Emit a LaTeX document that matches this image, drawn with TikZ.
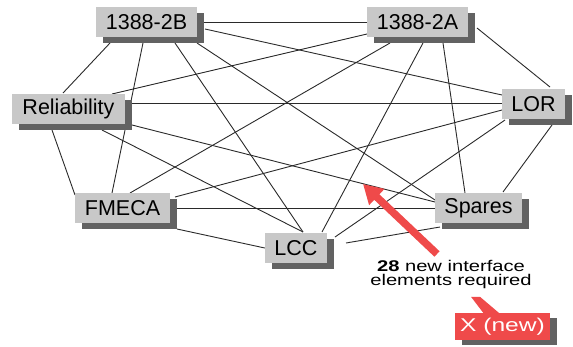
\documentclass[tikz,border=0pt]{standalone}
\usepackage{fontspec}
\setmainfont{Liberation Sans}
\usepackage{graphicx}
\usetikzlibrary{shadows,arrows.meta,backgrounds}
\definecolor{boxgray}{HTML}{C8C8C8}
\definecolor{shadowgray}{HTML}{626262}
\definecolor{alertred}{HTML}{EF4A4A}
\definecolor{linkgray}{HTML}{2A2A2A}
\begin{document}
\begin{tikzpicture}[x=1pt,y=-1pt,
  item/.style={fill=boxgray, inner sep=0pt, minimum height=30pt,
    font=\fontsize{21.5}{24}\selectfont,
    drop shadow={shadow xshift=7pt, shadow yshift=-6pt, fill=shadowgray, opacity=1}},
  link/.style={draw=linkgray, line width=0.9pt}]
\useasboundingbox (0,0) rectangle (573,346);

% system elements
\node[item, minimum width=101pt] (b2b) at (146.5,22) {1388-2B};
\node[item, minimum width=101pt] (b2a) at (417.5,22) {1388-2A};
\node[item, minimum width=113pt] (rel) at (68.5,109) {Reliability};
\node[item, minimum width=63pt]  (lor) at (533.5,104) {LOR};
\node[item, minimum width=95pt]  (fme) at (122.5,208) {FMECA};
\node[item, minimum width=62pt]  (lcc) at (296,248) {LCC};
\node[item, minimum width=87pt]  (spa) at (478.5,208) {Spares};

% every pair of elements is linked
\begin{scope}[on background layer]
\draw[link] ([shift={(57.5,0)}]b2b.center) -- (b2a.west);
\draw[link] ([shift={(58.5,7)}]b2b.center) -- ([shift={(-31.5,-9)}]lor.center);
\draw[link] ([shift={(-36.5,21)}]b2b.center) -- ([shift={(-5.5,-16)}]rel.center);
\draw[link] ([shift={(-3.5,21)}]b2b.center) -- ([shift={(-10.5,-15)}]fme.center);
\draw[link] ([shift={(28.5,21)}]b2b.center) -- ([shift={(7,-16)}]lcc.center);
\draw[link] ([shift={(50.5,21)}]b2b.center) -- ([shift={(-43.5,-8)}]spa.center);

\draw[link] ([shift={(-50.5,12)}]b2a.center) -- ([shift={(43.5,-15)}]rel.center);
\draw[link] ([shift={(-27.5,21)}]b2a.center) -- ([shift={(7.5,-15)}]fme.center);
\draw[link] ([shift={(5.5,21)}]b2a.center) -- ([shift={(26,-16)}]lcc.center);
\draw[link] ([shift={(25.5,21)}]b2a.center) -- ([shift={(-13.5,-15)}]spa.center);
\draw[link] ([shift={(59.5,6)}]b2a.center) -- ([shift={(16.5,-17)}]lor.center);

\draw[link] ([shift={(63.5,-6)}]rel.center) -- ([shift={(-31.5,-1)}]lor.center);
\draw[link] ([shift={(-16.5,21)}]rel.center) -- ([shift={(-47.5,-13)}]fme.center);
\draw[link] ([shift={(33.5,21)}]rel.center) -- ([shift={(7,-16)}]lcc.center);
\draw[link] ([shift={(63.5,16)}]rel.center) -- ([shift={(-43.5,-6)}]spa.center);

\draw[link] ([shift={(-31.5,6)}]lor.center) -- ([shift={(52.5,-11)}]fme.center);
\draw[link] ([shift={(-28.5,16)}]lor.center) -- ([shift={(39,-11)}]lcc.center);
\draw[link] ([shift={(18.5,21)}]lor.center) -- ([shift={(24.5,-16)}]spa.center);

\draw[link] ([shift={(54.5,0)}]fme.center) -- (spa.west);
\draw[link] ([shift={(54.5,21)}]fme.center) -- (lcc.west);
\draw[link] ([shift={(50,-5)}]lcc.center) -- ([shift={(-38.5,19)}]spa.center);
\end{scope}

% callout
\coordinate (arrowTail) at (437,254);
\coordinate (arrowTip) at (363,184);
\draw[alertred, line width=7.5pt, -{Triangle[length=19pt,width=21pt]}] (arrowTail) -- (arrowTip);
\node[align=center, font=\fontsize{15.5}{14}\selectfont, inner sep=0pt] (note) at (451,274)
  {\scalebox{1.3}[1]{\textbf{28} new interface}\\\scalebox{1.3}[1]{elements required}};

% the new element
\node[fill=alertred, minimum width=95pt, minimum height=27pt, inner sep=0pt, text=white,
  font=\fontsize{18.5}{20}\selectfont,
  drop shadow={shadow xshift=7pt, shadow yshift=-5pt, fill=shadowgray, opacity=1}]
  (xnew) at (502.5,326.5) {\scalebox{1.33}[1]{X (new)}};
\fill[alertred] ([shift={(-31.5,-16)}]xnew.north) -- ([shift={(-22.5,-16)}]xnew.north)
  -- ([shift={(-2.5,1)}]xnew.north) -- ([shift={(-18.5,1)}]xnew.north) -- cycle;
\end{tikzpicture}
\end{document}
